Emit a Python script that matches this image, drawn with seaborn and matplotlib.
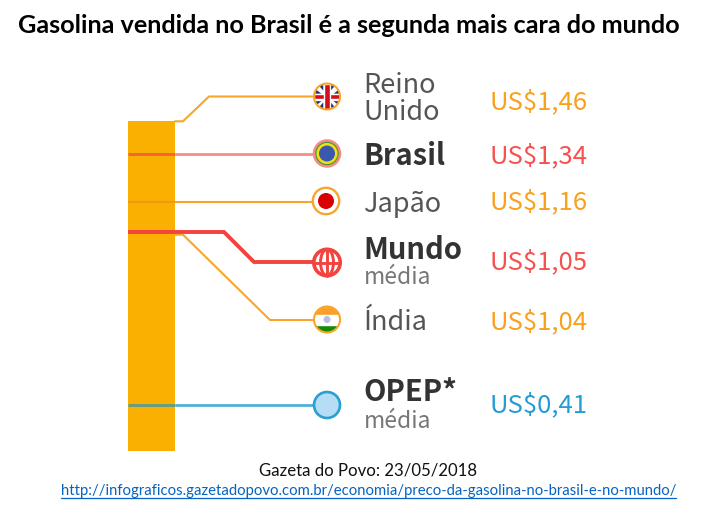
import matplotlib
matplotlib.use("Agg")
import matplotlib.pyplot as plt
from matplotlib.patches import Circle, Ellipse, Rectangle, Polygon
import seaborn as sns

countries = ["Reino\nUnido", "Brasil", "Japão", "Mundo", "Índia", "OPEP*"]
prices = [1.46, 1.34, 1.16, 1.05, 1.04, 0.41]
subtitles = ["", "", "", "média", "", "média"]

ORANGE = "#F8A62B"
RED = "#F4433F"
BLUE = "#2A9FD2"
BAR = "#F9B000"
W, H = 701, 509
label_font = "Noto Sans CJK JP"
title_font = "Lato"

sns.set_theme(style="white")
fig = plt.figure(figsize=(W / 100, H / 100), dpi=100, facecolor="white")


# pixel row on the picture -> price
def vy(p):
    return (515.5 - p) / 270


# main axes: x in pixels, y in price, cut off at the base of the bar
ax = fig.add_axes([0, (H - 451) / H, 1, 451 / H])
sns.barplot(x=[151.5], y=[prices[0]], native_scale=True, width=47, color=BAR,
            saturation=1, linewidth=0, edgecolor=BAR, ax=ax)
ax.set_xlim(0, W)
ax.set_ylim(vy(451), vy(0))
ax.axis("off")

# connectors
ax.plot([175, 183, 209, 314], [prices[0], prices[0], vy(96.5), vy(96.5)], color=ORANGE, lw=1.5)
ax.plot([128, 175], [prices[1]] * 2, color="#F5603C", lw=2, solid_capstyle="butt")
ax.plot([175, 314], [prices[1]] * 2, color="#FA8A86", lw=2, solid_capstyle="butt")
ax.plot([128, 175], [prices[2]] * 2, color="#EF9A12", lw=1.5, solid_capstyle="butt")
ax.plot([175, 314], [prices[2]] * 2, color=ORANGE, lw=1.5, solid_capstyle="butt")
ax.plot([175, 183, 270, 314], [prices[4], prices[4], vy(320), vy(320)], color=ORANGE, lw=1.5)
ax.plot([128, 224, 254, 314], [prices[3], prices[3], vy(262), vy(262)], color=RED, lw=2.8,
        solid_capstyle="butt", solid_joinstyle="miter")
ax.plot([128, 175], [prices[5]] * 2, color="#5A9E90", lw=2, solid_capstyle="butt")
ax.plot([175, 314], [prices[5]] * 2, color="#4FB1D8", lw=2, solid_capstyle="butt")

# overlay in plain pixels for the flags and the text
ov = fig.add_axes([0, 0, 1, 1])
ov.set_xlim(0, W)
ov.set_ylim(H, 0)
ov.axis("off")
ov.patch.set_alpha(0)


def disc(x, y, r, fc, ec="none", lw=0, z=3):
    c = Circle((x, y), r, fc=fc, ec=ec, lw=lw, zorder=z)
    ov.add_patch(c)
    return c


# Reino Unido
x, y = 327, 96.5
clip = disc(x, y, 13, "white")
for sx in (-1, 1):
    for sy in (-1, 1):
        tri = Polygon([(x + sx * 3, y + sy * 13), (x + sx * 3, y + sy * 4),
                       (x + sx * 10, y + sy * 12)], fc="#1F2F78", zorder=3.2)
        ov.add_patch(tri)
        tri.set_clip_path(clip)
        tri = Polygon([(x + sx * 4, y + sy * 3), (x + sx * 13, y + sy * 3),
                       (x + sx * 13, y + sy * 10)], fc="#1F2F78", zorder=3.2)
        ov.add_patch(tri)
        tri.set_clip_path(clip)
for r in [Rectangle((x - 13, y - 2.8), 26, 5.6, fc="#D0101C", zorder=3.4),
          Rectangle((x - 2.8, y - 13), 5.6, 26, fc="#D0101C", zorder=3.4)]:
    ov.add_patch(r)
    r.set_clip_path(clip)
disc(x, y, 13, "none", ORANGE, 1.5, z=4)

# Brasil
x, y = 327, 153.5
disc(x, y, 13, "#4E9A3A", "#F98B85", 1.8)
disc(x, y, 10.5, "#F3E014", z=3.2)
disc(x, y, 8, "#3A58B0", z=3.4)

# Japão
x, y = 326, 201
disc(x, y, 13.2, "white", ORANGE, 1.7)
disc(x, y, 8, "#D80000", z=3.4)

# Mundo
x, y = 327, 262.5
disc(x, y, 13.2, "white", RED, 2.6)
ov.add_patch(Ellipse((x, y), 13, 26, fc="none", ec=RED, lw=2.1, zorder=4))
ov.plot([x, x], [y - 13, y + 13], color=RED, lw=2.1, zorder=4)
ov.plot([x - 13, x + 13], [y, y], color=RED, lw=2.1, zorder=4)

# Índia
x, y = 327, 319.5
clip = disc(x, y, 13, "white")
for top, col in [(y - 13.5, "#F9A02B"), (y + 5, "#148A08")]:
    r = Rectangle((x - 13.5, top), 27, 8.5, fc=col, zorder=3.2)
    ov.add_patch(r)
    r.set_clip_path(clip)
disc(x, y, 3.5, "#B9BEE6", z=3.4)
disc(x, y, 13, "none", ORANGE, 1.5, z=4)

# OPEP
disc(327, 405, 13, "#B5DDF5", BLUE, 1.9)

# country names
name_x = 363.5
ov.text(name_x, 99, countries[0], family=label_font, fontsize=19.5, color="#555555",
        va="center", ha="left", linespacing=0.98)
ov.text(name_x, 156, countries[1], family=label_font, fontsize=21, color="#333333",
        fontweight="bold", va="center", ha="left")
ov.text(name_x, 204, countries[2], family=label_font, fontsize=19.5, color="#555555",
        va="center", ha="left")
ov.text(name_x, 250, countries[3], family=label_font, fontsize=21, color="#333333",
        fontweight="bold", va="center", ha="left")
ov.text(name_x, 278, subtitles[3], family=label_font, fontsize=16.5, color="#777777",
        va="center", ha="left")
ov.text(name_x, 323, countries[4], family=label_font, fontsize=19.5, color="#555555",
        va="center", ha="left")
ov.text(name_x, 392, countries[5], family=label_font, fontsize=21, color="#333333",
        fontweight="bold", va="center", ha="left")
ov.text(name_x, 421, subtitles[5], family=label_font, fontsize=16.5, color="#777777",
        va="center", ha="left")

# prices
value_colors = ["#F9A11B", "#F8504F", "#F9A11B", "#F8504F", "#F9A11B", "#249CD6"]
value_rows = [102, 156, 202, 262, 322, 405]
for v, col, row in zip(prices, value_colors, value_rows):
    ov.text(588, row, f"US${v:.2f}".replace(".", ","), family=label_font, fontsize=18.5,
            color=col, va="center", ha="right")

ov.text(348.5, 25, "Gasolina vendida no Brasil é a segunda mais cara do mundo", family=title_font,
        fontsize=18.2, fontweight="bold", color="black", va="center", ha="center")
ov.text(368, 470, "Gazeta do Povo: 23/05/2018", family=title_font, fontsize=12.05,
        color="#111111", va="center", ha="center")
ov.text(368.5, 491, "http://infograficos.gazetadopovo.com.br/economia/preco-da-gasolina-no-brasil-e-no-mundo/",
        family=title_font, fontsize=10.7, color="#0563C1", va="center", ha="center")
ov.plot([61, 676], [498, 498], color="#0563C1", lw=0.9)

fig.savefig("out.png", dpi=100, facecolor="white")
